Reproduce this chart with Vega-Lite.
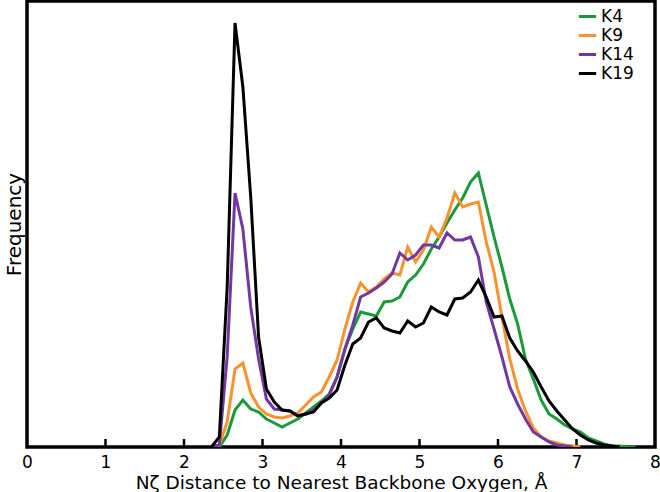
{
  "$schema": "https://vega.github.io/schema/vega-lite/v6.json",
  "width": 628,
  "height": 446,
  "autosize": {"type": "none"},
  "padding": {"left": 27, "top": 1, "right": 5, "bottom": 45},
  "background": "white",
  "config": {
    "view": {"stroke": "black", "strokeWidth": 3.5},
    "font": "DejaVu Sans"
  },
  "datasets": {
    "ticks": [{"x":1},{"x":2},{"x":3},{"x":4},{"x":5},{"x":6},{"x":7}],
    "curves": [
      {"s":"K4","x":2.35,"v":0},{"s":"K4","x":2.45,"v":0},{"s":"K4","x":2.55,"v":12},{"s":"K4","x":2.65,"v":37},{"s":"K4","x":2.75,"v":47},{"s":"K4","x":2.85,"v":38},{"s":"K4","x":2.95,"v":35},{"s":"K4","x":3.05,"v":28},{"s":"K4","x":3.15,"v":24},{"s":"K4","x":3.25,"v":20},{"s":"K4","x":3.35,"v":24},{"s":"K4","x":3.45,"v":28},{"s":"K4","x":3.55,"v":34},{"s":"K4","x":3.65,"v":40},{"s":"K4","x":3.75,"v":46},{"s":"K4","x":3.85,"v":53},{"s":"K4","x":3.95,"v":70},{"s":"K4","x":4.05,"v":98},{"s":"K4","x":4.15,"v":118},{"s":"K4","x":4.25,"v":135},{"s":"K4","x":4.35,"v":133},{"s":"K4","x":4.45,"v":131},{"s":"K4","x":4.55,"v":145},{"s":"K4","x":4.65,"v":146},{"s":"K4","x":4.75,"v":150},{"s":"K4","x":4.85,"v":165},{"s":"K4","x":4.95,"v":172},{"s":"K4","x":5.05,"v":183},{"s":"K4","x":5.15,"v":198},{"s":"K4","x":5.25,"v":210},{"s":"K4","x":5.35,"v":224},{"s":"K4","x":5.45,"v":237},{"s":"K4","x":5.55,"v":249},{"s":"K4","x":5.65,"v":265},{"s":"K4","x":5.75,"v":274},{"s":"K4","x":5.85,"v":242},{"s":"K4","x":5.95,"v":210},{"s":"K4","x":6.05,"v":180},{"s":"K4","x":6.15,"v":148},{"s":"K4","x":6.25,"v":123},{"s":"K4","x":6.35,"v":88},{"s":"K4","x":6.45,"v":68},{"s":"K4","x":6.55,"v":47},{"s":"K4","x":6.65,"v":33},{"s":"K4","x":6.75,"v":28},{"s":"K4","x":6.85,"v":22},{"s":"K4","x":6.95,"v":18},{"s":"K4","x":7.05,"v":15},{"s":"K4","x":7.15,"v":9},{"s":"K4","x":7.25,"v":6},{"s":"K4","x":7.35,"v":3},{"s":"K4","x":7.45,"v":1},{"s":"K4","x":7.55,"v":1},{"s":"K4","x":7.65,"v":0},{"s":"K4","x":7.75,"v":0},
      {"s":"K9","x":2.35,"v":0},{"s":"K9","x":2.45,"v":2},{"s":"K9","x":2.55,"v":25},{"s":"K9","x":2.65,"v":78},{"s":"K9","x":2.75,"v":84},{"s":"K9","x":2.85,"v":54},{"s":"K9","x":2.95,"v":40},{"s":"K9","x":3.05,"v":33},{"s":"K9","x":3.15,"v":30},{"s":"K9","x":3.25,"v":29},{"s":"K9","x":3.35,"v":31},{"s":"K9","x":3.45,"v":34},{"s":"K9","x":3.55,"v":42},{"s":"K9","x":3.65,"v":50},{"s":"K9","x":3.75,"v":55},{"s":"K9","x":3.85,"v":70},{"s":"K9","x":3.95,"v":87},{"s":"K9","x":4.05,"v":118},{"s":"K9","x":4.15,"v":145},{"s":"K9","x":4.25,"v":164},{"s":"K9","x":4.35,"v":155},{"s":"K9","x":4.45,"v":160},{"s":"K9","x":4.55,"v":168},{"s":"K9","x":4.65,"v":174},{"s":"K9","x":4.75,"v":172},{"s":"K9","x":4.85,"v":200},{"s":"K9","x":4.95,"v":185},{"s":"K9","x":5.05,"v":197},{"s":"K9","x":5.15,"v":220},{"s":"K9","x":5.25,"v":210},{"s":"K9","x":5.35,"v":229},{"s":"K9","x":5.45,"v":254},{"s":"K9","x":5.55,"v":240},{"s":"K9","x":5.65,"v":243},{"s":"K9","x":5.75,"v":245},{"s":"K9","x":5.85,"v":205},{"s":"K9","x":5.95,"v":175},{"s":"K9","x":6.05,"v":130},{"s":"K9","x":6.15,"v":88},{"s":"K9","x":6.25,"v":58},{"s":"K9","x":6.35,"v":36},{"s":"K9","x":6.45,"v":19},{"s":"K9","x":6.55,"v":10},{"s":"K9","x":6.65,"v":6},{"s":"K9","x":6.75,"v":4},{"s":"K9","x":6.85,"v":2},{"s":"K9","x":6.95,"v":1},{"s":"K9","x":7.05,"v":0},
      {"s":"K14","x":2.35,"v":0},{"s":"K14","x":2.45,"v":2},{"s":"K14","x":2.55,"v":90},{"s":"K14","x":2.65,"v":254},{"s":"K14","x":2.75,"v":218},{"s":"K14","x":2.85,"v":140},{"s":"K14","x":2.95,"v":88},{"s":"K14","x":3.05,"v":48},{"s":"K14","x":3.15,"v":38},{"s":"K14","x":3.25,"v":37},{"s":"K14","x":3.35,"v":36},{"s":"K14","x":3.45,"v":31},{"s":"K14","x":3.55,"v":33},{"s":"K14","x":3.65,"v":37},{"s":"K14","x":3.75,"v":44},{"s":"K14","x":3.85,"v":52},{"s":"K14","x":3.95,"v":70},{"s":"K14","x":4.05,"v":98},{"s":"K14","x":4.15,"v":122},{"s":"K14","x":4.25,"v":150},{"s":"K14","x":4.35,"v":154},{"s":"K14","x":4.45,"v":159},{"s":"K14","x":4.55,"v":165},{"s":"K14","x":4.65,"v":173},{"s":"K14","x":4.75,"v":194},{"s":"K14","x":4.85,"v":187},{"s":"K14","x":4.95,"v":192},{"s":"K14","x":5.05,"v":202},{"s":"K14","x":5.15,"v":202},{"s":"K14","x":5.25,"v":199},{"s":"K14","x":5.35,"v":214},{"s":"K14","x":5.45,"v":207},{"s":"K14","x":5.55,"v":207},{"s":"K14","x":5.65,"v":210},{"s":"K14","x":5.75,"v":190},{"s":"K14","x":5.85,"v":145},{"s":"K14","x":5.95,"v":118},{"s":"K14","x":6.05,"v":90},{"s":"K14","x":6.15,"v":60},{"s":"K14","x":6.25,"v":43},{"s":"K14","x":6.35,"v":28},{"s":"K14","x":6.45,"v":15},{"s":"K14","x":6.55,"v":10},{"s":"K14","x":6.65,"v":5},{"s":"K14","x":6.75,"v":2},{"s":"K14","x":6.85,"v":1},{"s":"K14","x":6.95,"v":0},
      {"s":"K19","x":2.35,"v":0},{"s":"K19","x":2.45,"v":10},{"s":"K19","x":2.55,"v":160},{"s":"K19","x":2.65,"v":424},{"s":"K19","x":2.75,"v":360},{"s":"K19","x":2.85,"v":250},{"s":"K19","x":2.95,"v":110},{"s":"K19","x":3.05,"v":58},{"s":"K19","x":3.15,"v":45},{"s":"K19","x":3.25,"v":37},{"s":"K19","x":3.35,"v":36},{"s":"K19","x":3.45,"v":31},{"s":"K19","x":3.55,"v":33},{"s":"K19","x":3.65,"v":35},{"s":"K19","x":3.75,"v":44},{"s":"K19","x":3.85,"v":49},{"s":"K19","x":3.95,"v":57},{"s":"K19","x":4.05,"v":82},{"s":"K19","x":4.15,"v":103},{"s":"K19","x":4.25,"v":109},{"s":"K19","x":4.35,"v":125},{"s":"K19","x":4.45,"v":129},{"s":"K19","x":4.55,"v":119},{"s":"K19","x":4.65,"v":116},{"s":"K19","x":4.75,"v":114},{"s":"K19","x":4.85,"v":126},{"s":"K19","x":4.95,"v":120},{"s":"K19","x":5.05,"v":124},{"s":"K19","x":5.15,"v":140},{"s":"K19","x":5.25,"v":135},{"s":"K19","x":5.35,"v":132},{"s":"K19","x":5.45,"v":148},{"s":"K19","x":5.55,"v":149},{"s":"K19","x":5.65,"v":155},{"s":"K19","x":5.75,"v":167},{"s":"K19","x":5.85,"v":150},{"s":"K19","x":5.95,"v":130},{"s":"K19","x":6.05,"v":131},{"s":"K19","x":6.15,"v":109},{"s":"K19","x":6.25,"v":96},{"s":"K19","x":6.35,"v":86},{"s":"K19","x":6.45,"v":75},{"s":"K19","x":6.55,"v":60},{"s":"K19","x":6.65,"v":46},{"s":"K19","x":6.75,"v":36},{"s":"K19","x":6.85,"v":27},{"s":"K19","x":6.95,"v":18},{"s":"K19","x":7.05,"v":12},{"s":"K19","x":7.15,"v":7},{"s":"K19","x":7.25,"v":4},{"s":"K19","x":7.35,"v":2},{"s":"K19","x":7.45,"v":1},{"s":"K19","x":7.55,"v":0}
    ]
  },
  "encoding": {
    "x": {
      "field": "x", "type": "quantitative",
      "scale": {"domain": [0, 8], "nice": false, "zero": false},
      "axis": {
        "title": "Nζ Distance to Nearest Backbone Oxygen, Å",
        "titleFont": "DejaVu Sans", "titleFontSize": 18.5, "titleFontWeight": "normal", "titleColor": "black",
        "titlePadding": 3,
        "values": [0,1,2,3,4,5,6,7,8],
        "labelFont": "DejaVu Sans", "labelFontSize": 17, "labelColor": "black",
        "labelPadding": 7, "labelFlush": false,
        "ticks": false, "grid": false, "domain": false
      }
    }
  },
  "layer": [
    {
      "data": {"name": "ticks"},
      "mark": {"type": "rule", "strokeWidth": 2.5, "color": "black"},
      "encoding": {
        "y": {"datum": 0, "type": "quantitative"},
        "y2": {"datum": 8}
      }
    },
    {
      "data": {"name": "curves"},
      "mark": {"type": "line", "strokeWidth": 3, "strokeJoin": "miter", "clip": true},
      "encoding": {
        "y": {
          "field": "v", "type": "quantitative",
          "scale": {"domain": [0, 446], "nice": false},
          "axis": {
            "title": "Frequency", "titleFont": "DejaVu Sans", "titleFontSize": 20, "titleFontWeight": "normal", "titleColor": "black",
            "titlePadding": 3,
            "labels": false, "ticks": false, "domain": false, "grid": false
          }
        },
        "color": {
          "field": "s", "type": "nominal",
          "sort": ["K4","K9","K14","K19"],
          "scale": {"domain": ["K4","K9","K14","K19"], "range": ["#1a9a3a","#f7922e","#7338a0","#000000"]},
          "legend": {
            "title": null, "orient": "none", "legendX": 550, "legendY": 5,
            "symbolType": "stroke", "symbolStrokeWidth": 3, "symbolSize": 300,
            "labelFont": "DejaVu Sans", "labelFontSize": 17, "labelColor": "black",
            "rowPadding": 0, "labelOffset": 3
          }
        }
      }
    }
  ]
}
